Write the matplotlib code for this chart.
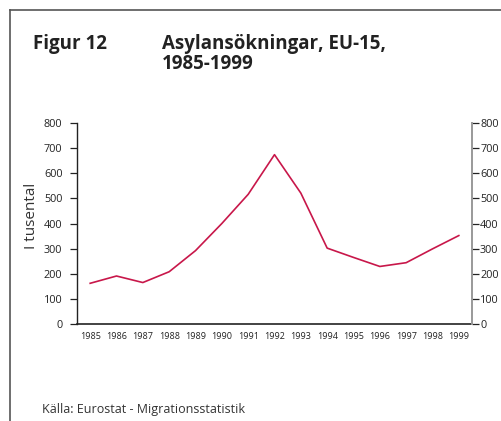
import matplotlib
matplotlib.use("Agg")
import matplotlib.pyplot as plt
from matplotlib.lines import Line2D

years = ["1985", "1986", "1987", "1988", "1989", "1990", "1991", "1992",
         "1993", "1994", "1995", "1996", "1997", "1998", "1999"]
applications = [162, 191, 165, 208, 292, 400, 516, 674, 521, 302, 265, 229, 244, 299, 352]
yticks = [0, 100, 200, 300, 400, 500, 600, 700, 800]

plt.rcParams['font.family'] = ['Open Sans', 'DejaVu Sans']

fig = plt.figure(figsize=(5.02, 4.21), dpi=100)
W, H = 502, 421

# frame lines
fig.add_artist(Line2D([10/W, 10/W], [0, 1 - 10/H], transform=fig.transFigure, color='#555555', lw=1.2))
fig.add_artist(Line2D([10/W, 1], [1 - 10/H, 1 - 10/H], transform=fig.transFigure, color='#555555', lw=1.2))

ax = fig.add_axes([77/W, 1 - 324/H, (472 - 77)/W, (324 - 123)/H])
x = list(range(len(years)))
ax.plot(x, applications, color='#C8174A', lw=1.2)
ax.set_xlim(-0.5, len(years) - 0.5)
ax.set_ylim(0, 800)
ax.set_xticks(x)
ax.set_xticklabels(years, fontsize=6.5)
ax.tick_params(axis='x', length=0, pad=6, colors='#222222')
ax.set_yticks(yticks)
ax.tick_params(axis='y', labelsize=7.8, length=5, width=0.9, colors='#222222', pad=5.5)
ax.spines['top'].set_visible(False)
ax.spines['right'].set_visible(False)
ax.spines['left'].set_color('#222222')
ax.spines['bottom'].set_color('#222222')
ax.spines['left'].set_linewidth(1.0)
ax.spines['bottom'].set_linewidth(1.2)

ax2 = ax.twinx()
ax2.set_ylim(0, 800)
ax2.set_yticks(yticks)
ax2.tick_params(axis='y', labelsize=7.8, length=5, width=0.9, colors='#222222', pad=0.8)
for s in ['top', 'left', 'bottom']:
    ax2.spines[s].set_visible(False)
ax2.spines['right'].set_color('#999999')
ax2.spines['right'].set_linewidth(1.4)

ax.set_ylabel("I tusental", fontsize=11, color='#333333')
ax.yaxis.set_label_coords(-38/(472 - 77), (324 - 216)/(324 - 123))

title_kw = dict(fontsize=13.5, fontweight='bold', color='#222222', va='center', ha='left')
fig.text(33/W, 1 - 44/H, "Figur 12", **title_kw)
fig.text(162/W, 1 - 44/H, "Asylansökningar, EU-15,", **title_kw)
fig.text(162/W, 1 - 64/H, "1985-1999", **title_kw)
fig.text(42/W, 1 - 409/H, "Källa: Eurostat - Migrationsstatistik", fontsize=9, color='#333333', va='center', ha='left')

fig.savefig("out.png", dpi=100)
